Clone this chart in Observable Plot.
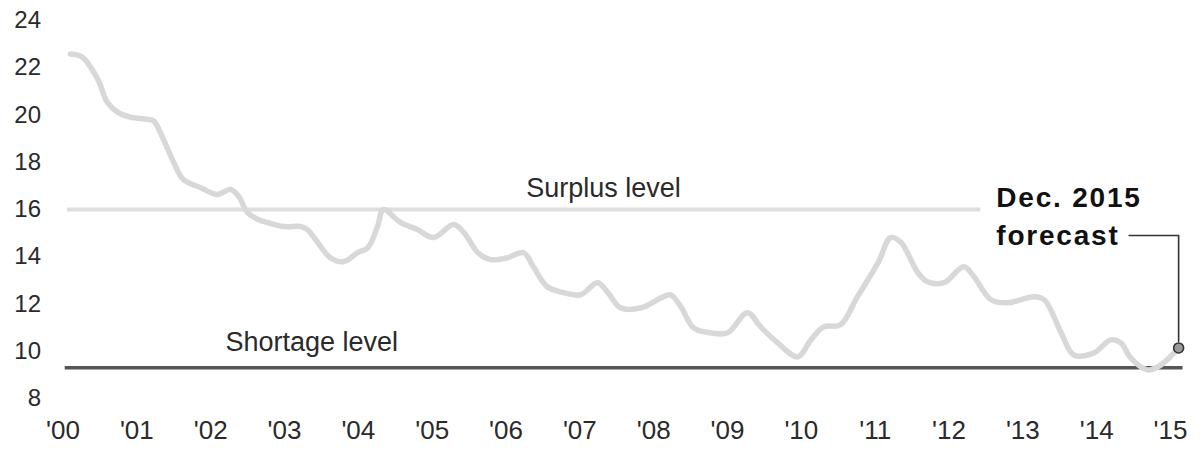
<!DOCTYPE html>
<html>
<head>
<meta charset="utf-8">
<script src="https://cdn.jsdelivr.net/npm/d3@7"></script>
<script src="https://cdn.jsdelivr.net/npm/@observablehq/plot@0.6"></script>
<style>
  html, body { margin: 0; padding: 0; background: #fff; }
  #chart svg { display: block; }
</style>
</head>
<body>
<div id="chart"></div>
<script>
// Years (decimal) and values of the inventory line
const years = [
  2000.10, 2000.26, 2000.47, 2000.60, 2000.74, 2000.91, 2001.14, 2001.23, 2001.36, 2001.50,
  2001.63, 2001.86, 2002.09, 2002.27, 2002.38, 2002.50, 2002.64, 2002.77, 2002.99, 2003.22,
  2003.31, 2003.45, 2003.62, 2003.80, 2003.99, 2004.13, 2004.26, 2004.34, 2004.57, 2004.80,
  2005.02, 2005.29, 2005.43, 2005.62, 2005.79, 2006.02, 2006.24, 2006.37, 2006.56, 2006.78,
  2007.01, 2007.24, 2007.38, 2007.55, 2007.83, 2008.10, 2008.23, 2008.37, 2008.54, 2008.77,
  2009.00, 2009.27, 2009.45, 2009.68, 2009.95, 2010.13, 2010.30, 2010.53, 2010.76, 2011.04,
  2011.21, 2011.35, 2011.58, 2011.71, 2011.93, 2012.20, 2012.34, 2012.57, 2012.80, 2013.15,
  2013.29, 2013.52, 2013.69, 2013.96, 2014.19, 2014.33, 2014.46, 2014.69, 2014.87, 2015.11
];
const values = [
  22.58, 22.45, 21.52, 20.54, 20.12, 19.91, 19.82, 19.74, 18.97, 17.99,
  17.27, 16.93, 16.64, 16.85, 16.55, 15.87, 15.58, 15.45, 15.28, 15.28,
  15.15, 14.60, 13.96, 13.79, 14.17, 14.39, 15.28, 16.00, 15.45, 15.15,
  14.81, 15.36, 15.02, 14.17, 13.88, 13.96, 14.17, 13.58, 12.73, 12.48,
  12.39, 12.90, 12.48, 11.84, 11.84, 12.26, 12.39, 11.88, 10.99, 10.78,
  10.78, 11.63, 11.03, 10.35, 9.76, 10.48, 11.03, 11.12, 12.31, 13.75,
  14.81, 14.60, 13.32, 12.94, 12.90, 13.58, 13.15, 12.18, 12.05, 12.31,
  12.18, 10.78, 9.84, 9.93, 10.48, 10.35, 9.72, 9.21, 9.42, 10.14
];

// Reference levels
const levelNames = ["Surplus level", "Shortage level"];
const levelValues = [16, 9.3];
const levelStarts = [2000.06, 2000.03];
const levelEnds = [2012.43, 2015.17];
const levelLabelX = [2007.32, 2003.37];
const levelLabelY = [16.89, 10.39];

// Forecast annotation
const forecastLabel = "Dec. 2015\nforecast";
const forecastLabelX = 2012.64;
const forecastLabelY = 17.24;
const leaderX = [2014.44, 2015.11, 2015.11];
const leaderY = [14.90, 14.90, 10.42];
const forecastPoint = { year: 2015.11, value: 10.14 };

// Axes
const yTicks = [8, 10, 12, 14, 16, 18, 20, 22, 24];
const xTicks = d3.range(2000, 2016);
const xTickLabels = ["'00","'01","'02","'03","'04","'05","'06","'07","'08","'09","'10","'11","'12","'13","'14","'15"];

const series = years.map((y, i) => ({ year: y, value: values[i] }));
const levels = levelNames.map((n, i) => ({ name: n, value: levelValues[i], x1: levelStarts[i], x2: levelEnds[i], lx: levelLabelX[i], ly: levelLabelY[i] }));
const leader = leaderX.map((x, i) => ({ x, y: leaderY[i] }));

const font = "'Liberation Sans', Arial, Helvetica, sans-serif";

const plot = Plot.plot({
  width: 1201,
  height: 451,
  marginTop: 20,
  marginBottom: 53,
  marginLeft: 62.5,
  marginRight: 31,
  style: { fontFamily: font, background: "#fff", color: "#222" },
  x: { domain: [2000, 2015] },
  y: { domain: [8, 24] },
  marks: [
    Plot.axisY({ ticks: yTicks, tickSize: 0, tickPadding: 22, fontSize: 24, label: null, fill: "#2a2a2a" }),
    Plot.axisX({ ticks: xTicks, tickSize: 0, tickPadding: 22, fontSize: 26, label: null, fill: "#2a2a2a",
                 tickFormat: d => xTickLabels[xTicks.indexOf(d)] }),
    // surplus level
    Plot.ruleY([levels[0]], { y: "value", x1: "x1", x2: "x2", stroke: "#dedede", strokeWidth: 4 }),
    // shortage level
    Plot.ruleY([levels[1]], { y: "value", x1: "x1", x2: "x2", stroke: "#555", strokeWidth: 3.5 }),
    // main series
    Plot.line(series, { x: "year", y: "value", stroke: "#d8d8d8", strokeWidth: 5.5, curve: "catmull-rom", strokeLinejoin: "round", strokeLinecap: "round" }),
    // level labels
    Plot.text(levels, { x: "lx", y: "ly", text: "name", fontSize: 27, fill: "#2a2a2a", textAnchor: "middle", lineAnchor: "middle" }),
    // leader line
    Plot.line(leader, { x: "x", y: "y", stroke: "#333", strokeWidth: 1.6 }),
    Plot.dot([forecastPoint], { x: "year", y: "value", r: 5, fill: "#9a9a9a", stroke: "#333", strokeWidth: 1.6 }),
    // forecast label
    Plot.text([forecastLabel], { x: () => forecastLabelX, y: () => forecastLabelY, text: d => d, fontSize: 28, fontWeight: "bold",
                                 fill: "#111", textAnchor: "start", lineAnchor: "top", lineHeight: 1.35 })
  ]
});

// letter spacing on the bold annotation
plot.querySelectorAll("text").forEach(t => {
  if (t.textContent.includes("forecast")) t.setAttribute("letter-spacing", "1.8px");
});

document.getElementById("chart").appendChild(plot);
</script>
</body>
</html>
